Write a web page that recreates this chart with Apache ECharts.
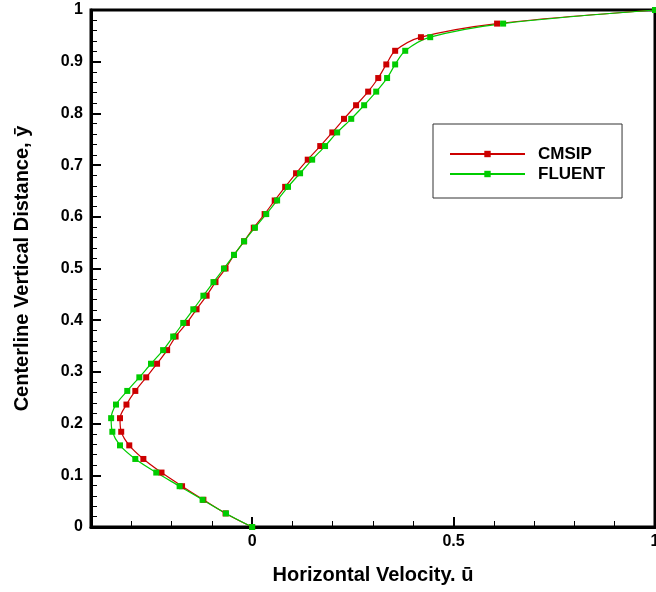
<!DOCTYPE html>
<html>
<head>
<meta charset="utf-8">
<script src="https://cdn.jsdelivr.net/npm/echarts@6/dist/echarts.min.js"></script>
<style>html,body{margin:0;padding:0;background:#fff;}#c{width:656px;height:592px;}</style>
</head>
<body>
<div id="c"></div>
<script>
// Centerline vertical distance (y-bar) at each sample point
const yValues = [0, 0.0263, 0.0526, 0.0789, 0.1053, 0.1316, 0.1579, 0.1842, 0.2105, 0.2368,
  0.2632, 0.2895, 0.3158, 0.3421, 0.3684, 0.3947, 0.4211, 0.4474, 0.4737, 0.5,
  0.5263, 0.5526, 0.5789, 0.6053, 0.6316, 0.6579, 0.6842, 0.7105, 0.7368, 0.7632,
  0.7895, 0.8158, 0.8421, 0.8684, 0.8947, 0.9211, 0.9474, 0.9737, 1];
// Horizontal velocity (u-bar), CMSIP
const cmsipU = [0, -0.066, -0.121, -0.174, -0.225, -0.270, -0.305, -0.325, -0.328, -0.312,
  -0.290, -0.263, -0.236, -0.211, -0.190, -0.162, -0.138, -0.113, -0.091, -0.066,
  -0.045, -0.020, 0.004, 0.031, 0.056, 0.082, 0.109, 0.138, 0.169, 0.199,
  0.228, 0.258, 0.288, 0.313, 0.333, 0.355, 0.419, 0.608, 1];
// Horizontal velocity (u-bar), FLUENT
const fluentU = [0, -0.065, -0.123, -0.180, -0.238, -0.290, -0.328, -0.347, -0.350, -0.338,
  -0.310, -0.280, -0.251, -0.221, -0.196, -0.171, -0.146, -0.121, -0.096, -0.070,
  -0.045, -0.020, 0.007, 0.035, 0.062, 0.089, 0.119, 0.149, 0.181, 0.211,
  0.246, 0.278, 0.308, 0.335, 0.355, 0.380, 0.442, 0.623, 1];
const xTickLabels = [0, 0.5, 1];
const seriesNames = ['CMSIP', 'FLUENT'];

const pair = (xs) => xs.map((x, i) => [x, yValues[i]]);
const FONT = '"Liberation Sans", Arial, sans-serif';

const chart = echarts.init(document.getElementById('c'), null, {renderer: 'canvas'});
chart.setOption({
  animation: false,
  backgroundColor: '#fff',
  grid: {left: 91, right: 1, top: 10, bottom: 65, containLabel: false, outerBoundsMode: 'none',
    show: true, borderColor: '#000', borderWidth: 3, backgroundColor: 'transparent'},
  legend: {
    orient: 'vertical', left: 433, top: 124,
    padding: [20, 17, 14, 16],
    itemWidth: 75, itemHeight: 8, itemGap: 0,
    borderColor: '#333', borderWidth: 1, backgroundColor: '#fff',
    textStyle: {fontFamily: FONT, fontWeight: 'bold', fontSize: 17, color: '#000', lineHeight: 20, padding: [0, 0, 0, 8]},
    data: seriesNames
  },
  xAxis: [{
    type: 'value', min: -0.4, max: 1,
    name: 'Horizontal Velocity. \u016B', nameLocation: 'middle', nameGap: 38,
    nameTextStyle: {fontFamily: FONT, fontWeight: 'bold', fontSize: 20, color: '#000'},
    axisLine: {show: true, onZero: false, lineStyle: {color: '#000', width: 3}},
    axisTick: {show: true, inside: true, length: 10, customValues: xTickLabels, lineStyle: {color: '#000', width: 2}},
    axisLabel: {show: true, customValues: xTickLabels, margin: 7, fontFamily: FONT, fontWeight: 'bold', fontSize: 16, color: '#000',
      formatter: v => String(v)},
    splitLine: {show: false}
  }, {
    type: 'value', min: -0.4, max: 1, interval: 0.1, position: 'bottom',
    axisLine: {show: false, onZero: false},
    axisTick: {show: true, inside: true, length: 6, lineStyle: {color: '#000', width: 1}},
    axisLabel: {show: false},
    splitLine: {show: false}
  }],
  yAxis: {
    type: 'value', min: 0, max: 1, interval: 0.1,
    name: 'Centerline Vertical Distance, \u0233', nameLocation: 'middle', nameGap: 59,
    nameTextStyle: {fontFamily: FONT, fontWeight: 'bold', fontSize: 20, color: '#000'},
    axisLine: {show: true, onZero: false, lineStyle: {color: '#000', width: 3}},
    axisTick: {show: true, inside: true, length: 10, lineStyle: {color: '#000', width: 2}},
    minorTick: {show: true, splitNumber: 5, length: 6, lineStyle: {color: '#000', width: 1}},
    axisLabel: {margin: 8, fontFamily: FONT, fontWeight: 'bold', fontSize: 16, color: '#000',
      formatter: v => String(Math.round(v * 10) / 10)},
    splitLine: {show: false}
  },
  series: [{
    name: seriesNames[0], type: 'line', data: pair(cmsipU), xAxisIndex: 0,
    smooth: 0.3, symbol: 'rect', symbolSize: 6,
    lineStyle: {color: '#cc0000', width: 1.2}, itemStyle: {color: '#cc0000'}
  }, {
    name: seriesNames[1], type: 'line', data: pair(fluentU), xAxisIndex: 0,
    smooth: 0.3, symbol: 'rect', symbolSize: 6,
    lineStyle: {color: '#00cc00', width: 1.2}, itemStyle: {color: '#00cc00'}
  }]
});
</script>
</body>
</html>
